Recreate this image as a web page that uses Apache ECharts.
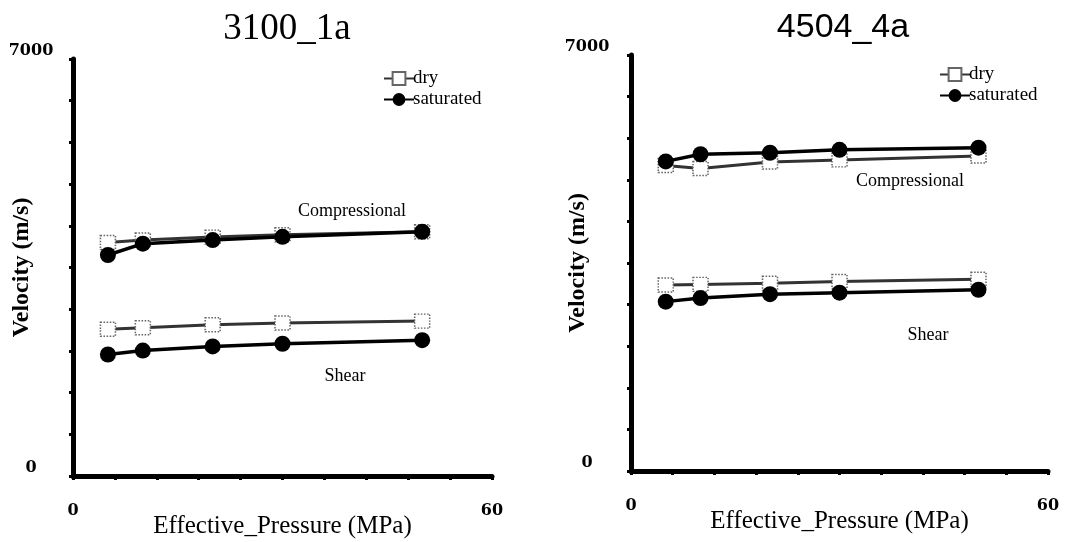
<!DOCTYPE html>
<html>
<head>
<meta charset="utf-8">
<script src="https://cdn.jsdelivr.net/npm/echarts@6/dist/echarts.min.js"></script>
<style>
  html, body { margin: 0; padding: 0; background: #fff; }
  #chart { width: 1068px; height: 542px; }
</style>
</head>
<body>
<div id="chart"></div>
<script>
// effective pressure (MPa)
var pressure = [5, 10, 20, 30, 50];

// sample 3100_1a, velocities (m/s)
var compDry3100 = [3920, 3960, 4010, 4050, 4100];
var compSat3100 = [3710, 3900, 3960, 4015, 4100];
var shearDry3100 = [2465, 2490, 2540, 2570, 2600];
var shearSat3100 = [2040, 2105, 2175, 2220, 2280];

// sample 4504_4a, velocities (m/s)
var compDry4504 = [5140, 5090, 5200, 5235, 5300];
var compSat4504 = [5210, 5330, 5355, 5405, 5440];
var shearDry4504 = [3130, 3140, 3160, 3190, 3225];
var shearSat4504 = [2850, 2910, 2975, 3000, 3050];

var titles = ["3100_1a", "4504_4a"];
var yTicks = [0, 7000];
var xTicks = [0, 60];

var serif = "Liberation Serif";

function pairs(ys) {
  return pressure.map(function (x, i) { return [x, ys[i]]; });
}

function drySeries(ys, idx) {
  return {
    name: "dry", type: "line", xAxisIndex: idx, yAxisIndex: idx,
    data: pairs(ys), symbol: "rect", symbolSize: [15, 14],
    lineStyle: { color: "#333", width: 3 },
    itemStyle: { color: "#fff", borderColor: "#666", borderWidth: 1.5, borderType: "dotted" },
    z: 2
  };
}
function satSeries(ys, idx) {
  return {
    name: "saturated", type: "line", xAxisIndex: idx, yAxisIndex: idx,
    data: pairs(ys), symbol: "circle", symbolSize: 16,
    lineStyle: { color: "#000", width: 3.5 },
    itemStyle: { color: "#000" },
    z: 3
  };
}

function xAxisCfg(idx) {
  return {
    gridIndex: idx, type: "value", min: 0, max: 60, interval: 6,
    name: "Effective_Pressure (MPa)", nameLocation: "middle", nameGap: 38, nameMoveOverlap: false,
    nameTextStyle: { fontFamily: serif, fontSize: 25, color: "#000" },
    axisLine: { lineStyle: { color: "#000", width: 5 } },
    axisTick: { show: true, length: 4, lineStyle: { color: "#000", width: 3 } },
    axisLabel: {
      margin: 27, fontFamily: "DejaVu Serif", fontWeight: "bold", fontSize: 16, color: "#000",
      formatter: function (v) { return xTicks.indexOf(v) >= 0 ? String(v) : ""; }
    },
    splitLine: { show: false }
  };
}
function yAxisCfg(idx, margin, gap) {
  return {
    gridIndex: idx, type: "value", min: 0, max: 7000, interval: 700,
    name: "Velocity (m/s)", nameLocation: "middle", nameGap: gap, nameRotate: 90, nameMoveOverlap: false,
    nameTextStyle: { fontFamily: serif, fontWeight: "bold", fontSize: 24, color: "#000" },
    axisLine: { show: true, lineStyle: { color: "#000", width: 5 } },
    axisTick: { show: true, length: 4, lineStyle: { color: "#000", width: 3 } },
    axisLabel: {
      margin: margin, align: "center", verticalAlign: "bottom",
      fontFamily: "DejaVu Serif", fontWeight: "bold", fontSize: 16, color: "#000",
      formatter: function (v) { return yTicks.indexOf(v) >= 0 ? String(v) : ""; }
    },
    splitLine: { show: false }
  };
}

var chart = echarts.init(document.getElementById("chart"));

var option = {
  backgroundColor: "#fff",
  animation: false,
  title: [
    { text: titles[0], left: 282, top: 6, textAlign: "center",
      textStyle: { fontFamily: serif, fontWeight: "normal", fontSize: 37, color: "#000" } },
    { text: titles[1], left: 838, top: 6, textAlign: "center",
      textStyle: { fontFamily: "Liberation Sans", fontWeight: "normal", fontSize: 34, color: "#000" } }
  ],
  legend: [
    { left: 378, top: 64, orient: "vertical", itemGap: 2, itemWidth: 30, itemHeight: 16,
      data: ["dry", "saturated"], selectedMode: false,
      textStyle: { fontFamily: serif, fontSize: 19, color: "#000", padding: [0, 0, 0, -6] } },
    { left: 934, top: 60, orient: "vertical", itemGap: 2, itemWidth: 30, itemHeight: 16,
      data: ["dry", "saturated"], selectedMode: false,
      textStyle: { fontFamily: serif, fontSize: 19, color: "#000", padding: [0, 0, 0, -6] } }
  ],
  grid: [
    { left: 73, top: 59, width: 419, height: 417, containLabel: false, outerBoundsMode: "none" },
    { left: 631, top: 55, width: 417, height: 416, containLabel: false, outerBoundsMode: "none" }
  ],
  xAxis: [xAxisCfg(0), xAxisCfg(1)],
  yAxis: [yAxisCfg(0, 42, 39), yAxisCfg(1, 44, 41)],
  series: [
    drySeries(compDry3100, 0),
    drySeries(shearDry3100, 0),
    satSeries(compSat3100, 0),
    satSeries(shearSat3100, 0),
    drySeries(compDry4504, 1),
    drySeries(shearDry4504, 1),
    satSeries(compSat4504, 1),
    satSeries(shearSat4504, 1)
  ],
  graphic: [
    { type: "text", x: 352, y: 211, style: { text: "Compressional", fontFamily: serif, fontSize: 18, fill: "#000", align: "center", verticalAlign: "middle" } },
    { type: "text", x: 345, y: 376, style: { text: "Shear", fontFamily: serif, fontSize: 18, fill: "#000", align: "center", verticalAlign: "middle" } },
    { type: "text", x: 910, y: 181, style: { text: "Compressional", fontFamily: serif, fontSize: 18, fill: "#000", align: "center", verticalAlign: "middle" } },
    { type: "text", x: 928, y: 335, style: { text: "Shear", fontFamily: serif, fontSize: 18, fill: "#000", align: "center", verticalAlign: "middle" } }
  ]
};

chart.setOption(option);
</script>
</body>
</html>
